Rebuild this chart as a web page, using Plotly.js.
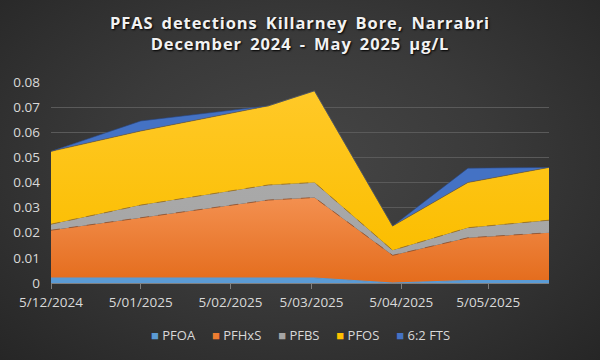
<!DOCTYPE html>
<html>
<head>
<meta charset="utf-8">
<script src="https://cdn.plot.ly/plotly-3.0.1.min.js"></script>
<style>
html, body { margin: 0; padding: 0; }
body { width: 600px; height: 360px; background: radial-gradient(ellipse at 50% 45%, #464646 0%, #3a3a3a 45%, #262626 100%); }
#chart { width: 600px; height: 360px; }
.gtitle { letter-spacing: 0.9px; word-spacing: 3px; }
</style>
</head>
<body>
<div id="chart"></div>
<script>
// Sample dates
var dates = ["2024-12-05", "2025-01-05", "2025-02-18", "2025-03-06", "2025-04-02", "2025-04-28", "2025-05-26"];
// Concentrations (µg/L)
var pfoa   = [0.002, 0.002, 0.002, 0.002, 0.0, 0.001, 0.001];
var pfhxs  = [0.019, 0.024, 0.031, 0.032, 0.011, 0.017, 0.019];
var pfbs   = [0.0024, 0.005, 0.006, 0.006, 0.002, 0.004, 0.005];
var pfos   = [0.029, 0.0295, 0.0315, 0.0365, 0.0097, 0.018, 0.021];
var fts62  = [0.0, 0.004, 0.0, 0.0, 0.0, 0.0057, 0.0];
// Axis tick labels
var tickDates = ["2024-12-05", "2025-01-05", "2025-02-05", "2025-03-05", "2025-04-05", "2025-05-05"];
var tickLabels = ["5/12/2024", "5/01/2025", "5/02/2025", "5/03/2025", "5/04/2025", "5/05/2025"];

var series = [
  {name: "PFOA", y: pfoa, color: "#5B9BD5", grad: ["#5B9BD5", "#5B9BD5"], line: "#5B9BD5", dash: "solid"},
  {name: "PFHxS", y: pfhxs, color: "#ED7D31", grad: ["#E46C1C", "#F39050"], line: "rgba(150,80,40,0.8)", dash: "dash"},
  {name: "PFBS", y: pfbs, color: "#A5A5A5", grad: ["#A5A5A5", "#A9A9A9"], line: "rgba(150,110,40,0.8)", dash: "dash"},
  {name: "PFOS", y: pfos, color: "#FFC000", grad: ["#FBBE00", "#FFC928"], line: "rgba(120,90,40,0.6)", dash: "solid"},
  {name: "6:2 FTS", y: fts62, color: "#4472C4", grad: ["#4472C4", "#4472C4"], line: "rgba(40,70,130,0.6)", dash: "solid"}
];

var traces = [];
series.forEach(function(s) {
  traces.push({
    type: "scatter", mode: "lines", x: dates, y: s.y, name: s.name,
    stackgroup: "one", fillcolor: s.color,
    fillgradient: {type: "vertical", colorscale: [[0, s.grad[0]], [1, s.grad[1]]]},
    line: {color: s.line, width: 1, dash: s.dash},
    showlegend: false, hoverinfo: "skip"
  });
});

// Legend drawn as one line of text built from the series names and colours
var legendText = series.map(function(s) {
  return "<span style='color:" + s.color + "'>■</span>\u00a0" + s.name;
}).join("\u00a0\u00a0\u00a0\u00a0\u00a0");

var layout = {
  width: 600, height: 360,
  paper_bgcolor: "rgba(0,0,0,0)", plot_bgcolor: "rgba(0,0,0,0)",
  margin: {l: 51, r: 51, t: 82, b: 77},
  showlegend: false,
  title: {
    text: "<b>PFAS detections Killarney Bore, Narrabri<br>December 2024 - May 2025 µg/L</b>",
    font: {family: "Open Sans, sans-serif", size: 16.5, color: "#F2F2F2", shadow: "1px 1px 2px #000"},
    x: 0.5, xanchor: "center", yref: "container", y: 0.92, yanchor: "top"
  },
  xaxis: {
    type: "date", range: ["2024-12-05", "2025-05-26"],
    tickvals: tickDates, ticktext: tickLabels,
    ticks: "outside", ticklen: 5, tickcolor: "#7F7F7F", ticklabelstandoff: 2,
    showline: true, linecolor: "#7F7F7F", showgrid: false, zeroline: false,
    tickfont: {family: "Open Sans, sans-serif", size: 13.5, color: "#D9D9D9"}
  },
  yaxis: {
    range: [0, 0.08], dtick: 0.01, tick0: 0,
    showgrid: true, gridcolor: "#5A5A5A", gridwidth: 1,
    zeroline: false, showline: false, ticks: "", ticklabelstandoff: 10,
    tickfont: {family: "Open Sans, sans-serif", size: 13.5, color: "#D9D9D9"}
  },
  annotations: [{
    xref: "paper", yref: "paper", x: 0.5, y: -0.26, xanchor: "center", yanchor: "middle",
    text: legendText, showarrow: false,
    font: {family: "Open Sans, sans-serif", size: 13, color: "#D9D9D9"}
  }],
  hovermode: false
};

Plotly.newPlot("chart", traces, layout, {displayModeBar: false, staticPlot: true});
</script>
</body>
</html>
